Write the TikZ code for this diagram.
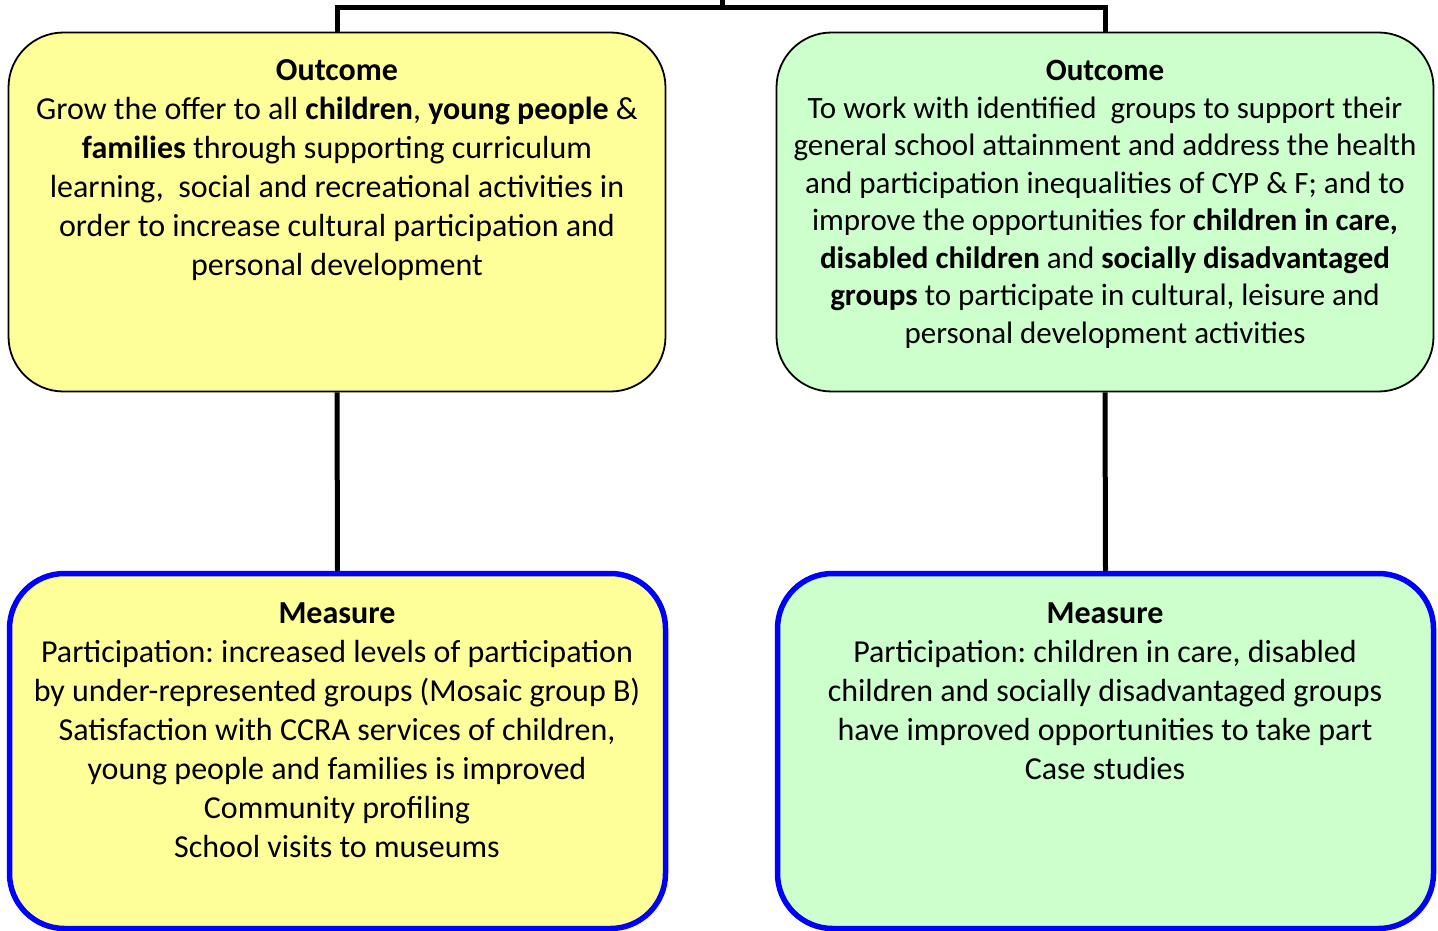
\documentclass[tikz,border=0pt]{standalone}
\usepackage{fontspec}
\setmainfont{Carlito}
\frenchspacing
\definecolor{boxyellow}{HTML}{FFFF99}
\definecolor{boxgreen}{HTML}{CCFFCC}
\definecolor{measureblue}{HTML}{0000FF}
\begin{document}
\begin{tikzpicture}[x=1pt,y=-1pt,
  outbox/.style={draw=black, line width=1.8pt, rounded corners=55pt, minimum width=657pt, minimum height=359pt, inner sep=0pt},
  measbox/.style={draw=measureblue, line width=5.5pt, rounded corners=55pt, minimum width=656pt, minimum height=355pt, inner sep=0pt},
  boxtext/.style={align=center, inner sep=0pt, anchor=north, font=\fontsize{32}{39}\selectfont},
  conn/.style={draw=black, line width=5pt}
]
\useasboundingbox (0,0) rectangle (1438,931);
\node[outbox, fill=boxyellow] (o1) at (337,212) {};
\node[outbox, fill=boxgreen] (o2) at (1105,212) {};
\node[measbox, fill=boxyellow] (m1) at (337.5,751) {};
\node[measbox, fill=boxgreen] (m2) at (1105.5,751) {};

\node[boxtext] (t1) at (337,59) {\textbf{Outcome}\\
Grow the offer to all \textbf{children}, \textbf{young people} \&\\
\textbf{families} through supporting curriculum\\
learning,\ \ social and recreational activities in\\
order to increase cultural participation and\\
personal development};

\node[boxtext, font=\fontsize{31}{37.5}\selectfont] (t2) at (1105,60) {\textbf{Outcome}\\
To work with identified\ \ groups to support their\\
general school attainment and address the health\\
and participation inequalities of CYP \& F; and to\\
improve the opportunities for \textbf{children in care,}\\
\textbf{disabled children} and \textbf{socially disadvantaged}\\
\textbf{groups} to participate in cultural, leisure and\\
personal development activities};

\node[boxtext] (t3) at (337,603) {\textbf{Measure}\\
Participation: increased levels of participation\\
by under-represented groups (Mosaic group B)\\
Satisfaction with CCRA services of children,\\
young people and families is improved\\
Community profiling\\
School visits to museums};

\node[boxtext] (t4) at (1105,603) {\textbf{Measure}\\
Participation: children in care, disabled\\
children and socially disadvantaged groups\\
have improved opportunities to take part\\
Case studies};

\coordinate (top) at (722,0);
\draw[conn] (o1.north) -- ++(0,-24) -| (o2.north);
\draw[conn] (722,8) -- (top);
\draw[conn] (o1.south) -- (m1.north);
\draw[conn] (o2.south) -- (m2.north);
\end{tikzpicture}
\end{document}
